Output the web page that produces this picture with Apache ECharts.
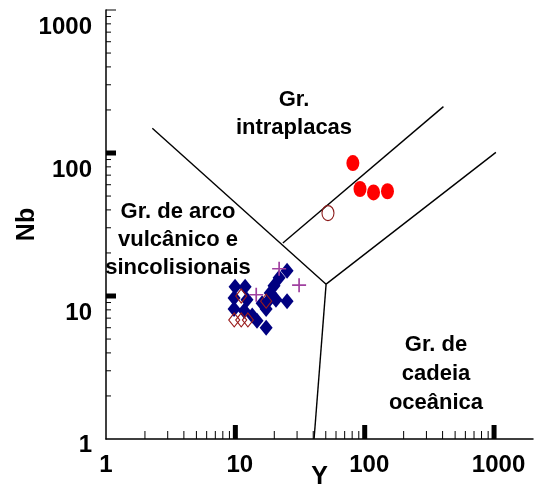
<!DOCTYPE html>
<html>
<head>
<meta charset="utf-8">
<script src="https://cdn.jsdelivr.net/npm/echarts@6/dist/echarts.min.js"></script>
<style>
html,body{margin:0;padding:0;background:#fff;}
#chart{width:536px;height:485px;}
</style>
</head>
<body>
<div id="chart"></div>
<script>
// ---- Data (Y ppm on x axis, Nb ppm on y axis) ----
const blueDiamonds = [
  [9.95,11.6],[11.9,11.6],[9.77,9.7],[12.3,9.4],[9.77,8.1],[11.7,7.9],
  [13.5,7.3],[14.7,6.7],[17.3,6.0],[25.1,15.0],[21.8,13.4],[19.9,11.8],
  [18.6,10.5],[17.9,9.2],[17.3,8.1],[20.6,9.4],[25.1,9.2],[16.1,8.9]
];
const openRedDiamonds = [[11.1,10.0],[17.3,9.2],[9.8,6.8],[11.1,6.8],[12.5,6.8]];
const purplePlus = [[21.8,15.5],[31.1,11.9],[14.5,10.2]];
const redCircles = [[81,85],[92,56],[117,53],[150,54]];
const openCircles = [[52,38]];

// discrimination boundaries (Pearce et al.)
const lineVAGtoWPG = [[2.28,149],[50.3,12.1]];
const lineWPGinner = [[23.3,23.5],[406,211]];
const lineWPGtoORG = [[50.3,12.1],[1033,101]];
const lineVAGtoORG = [[50.3,12.1],[40.6,1]];

// axis ticks / labels
const xTickLabels = [1,10,100,1000];
const yTickLabels = [1,10,100,1000];
const minorTicks = [2,3,4,5,6,7,8,9,20,30,40,50,60,70,80,90,200,300,400,500,600,700,800,900];
const xMajorTicks = [10,100,1000];
const yMajorTicks = [10,100];
const yTopTick = [1000];

const FONT = "'Liberation Sans', Arial, Helvetica, sans-serif";
const chart = echarts.init(document.getElementById('chart'), null, {renderer:'canvas'});

function lineSeries(data){
  return {type:'line', data:data, symbol:'none', silent:true, z:2,
    lineStyle:{color:'#000', width:1.4}, animation:false};
}
function xTickSeries(vals, major){
  return {type:'custom', silent:true, z:10, clip:false, animation:false,
    data: vals.map(v=>[v,1]),
    renderItem:function(params, api){
      const p = api.coord([api.value(0), 1]);
      if (major) return {type:'rect', shape:{x:p[0]-2.5, y:p[1]-14, width:5, height:14}, style:{fill:'#000'}};
      return {type:'line', shape:{x1:p[0], y1:p[1], x2:p[0], y2:p[1]-8}, style:{stroke:'#000', lineWidth:1}};
    }};
}
function yTickSeries(vals, kind){
  return {type:'custom', silent:true, z:10, clip:false, animation:false,
    data: vals.map(v=>[1,v]),
    renderItem:function(params, api){
      const p = api.coord([1, api.value(1)]);
      if (kind==='major') return {type:'rect', shape:{x:p[0], y:p[1]-2.5, width:10, height:5}, style:{fill:'#000'}};
      const len = kind==='top' ? 10 : 5;
      return {type:'line', shape:{x1:p[0], y1:p[1], x2:p[0]+len, y2:p[1]}, style:{stroke:'#000', lineWidth:1}};
    }};
}

const labelBase = {fontSize:24, fontWeight:'bold', fontFamily:FONT, color:'#000', lineHeight:24};
const plusPath = 'path://M4.4 0h1.2v4.4h4.4v1.2h-4.4v4.4h-1.2v-4.4h-4.4v-1.2h4.4z';

const option = {
  backgroundColor:'#fff',
  animation:false,
  grid:{left:106, top:10, width:427, height:429, containLabel:false, outerBoundsMode:'none'},
  xAxis:{
    type:'log', logBase:10, min:1, max:2000,
    name:'Y', nameLocation:'middle', nameGap:26, nameMoveOverlap:false,
    nameTextStyle:{fontSize:25, fontWeight:'bold', fontFamily:FONT, color:'#000'},
    axisLine:{show:true, onZero:false, lineStyle:{color:'#000', width:1.5}},
    axisTick:{show:false}, splitLine:{show:false}, minorTick:{show:false},
    axisLabel:{
      margin:14,
      formatter:function(v){
        const r = Math.round(v);
        if (xTickLabels.indexOf(r) < 0) return '';
        return r===1 ? '{a|1}' : '{b|'+r+'}';
      },
      rich:{a:Object.assign({}, labelBase), b:Object.assign({padding:[0,0,0,9]}, labelBase)}
    }
  },
  yAxis:{
    type:'log', logBase:10, min:1, max:1000,
    name:'Nb', nameLocation:'middle', nameGap:66, nameRotate:90, nameMoveOverlap:false,
    nameTextStyle:{fontSize:25, fontWeight:'bold', fontFamily:FONT, color:'#000'},
    axisLine:{show:true, onZero:false, lineStyle:{color:'#000', width:1.5}},
    axisTick:{show:false}, splitLine:{show:false}, minorTick:{show:false},
    axisLabel:{
      margin:14,
      formatter:function(v){
        const r = Math.round(v);
        if (yTickLabels.indexOf(r) < 0) return '';
        return r===1 ? '{s|1}' : '{t|'+r+'}';
      },
      rich:{s:Object.assign({padding:[12,0,0,0]}, labelBase), t:Object.assign({padding:[35,0,0,0]}, labelBase)}
    }
  },
  graphic:[
    {type:'text', z:20, silent:true, style:{text:'Gr.\nintraplacas', x:294, y:114, textAlign:'center', textVerticalAlign:'middle', font:'bold 22px '+FONT, lineHeight:28, fill:'#000'}},
    {type:'text', z:20, silent:true, style:{text:'Gr. de arco\nvulcânico e\nsincolisionais', x:178, y:240, textAlign:'center', textVerticalAlign:'middle', font:'bold 22px '+FONT, lineHeight:28, fill:'#000'}},
    {type:'text', z:20, silent:true, style:{text:'Gr. de\ncadeia\noceânica', x:436, y:374, textAlign:'center', textVerticalAlign:'middle', font:'bold 22px '+FONT, lineHeight:29, fill:'#000'}}
  ],
  series:[
    lineSeries(lineVAGtoWPG),
    lineSeries(lineWPGinner),
    lineSeries(lineWPGtoORG),
    lineSeries(lineVAGtoORG),
    {type:'scatter', data:blueDiamonds, symbol:'diamond', symbolSize:[13,16], z:3, silent:true,
      itemStyle:{color:'#000080', opacity:1}},
    {type:'scatter', data:openRedDiamonds, symbol:'diamond', symbolSize:[11,14], z:4, silent:true,
      itemStyle:{color:'none', borderColor:'#9a1c1c', borderWidth:1.1, opacity:1}},
    {type:'scatter', data:purplePlus, symbol:plusPath, symbolSize:14, z:5, silent:true,
      itemStyle:{color:'#a040a0', opacity:1}},
    {type:'scatter', data:redCircles, symbol:'circle', symbolSize:[13,16], z:3, silent:true,
      itemStyle:{color:'#ff0000', opacity:1}},
    {type:'scatter', data:openCircles, symbol:'circle', symbolSize:[12,15], z:3, silent:true,
      itemStyle:{color:'none', borderColor:'#8b1a1a', borderWidth:1.2, opacity:1}},
    xTickSeries(minorTicks, false),
    xTickSeries(xMajorTicks, true),
    yTickSeries(minorTicks, 'minor'),
    yTickSeries(yMajorTicks, 'major'),
    yTickSeries(yTopTick, 'top')
  ]
};
chart.setOption(option);
</script>
</body>
</html>
